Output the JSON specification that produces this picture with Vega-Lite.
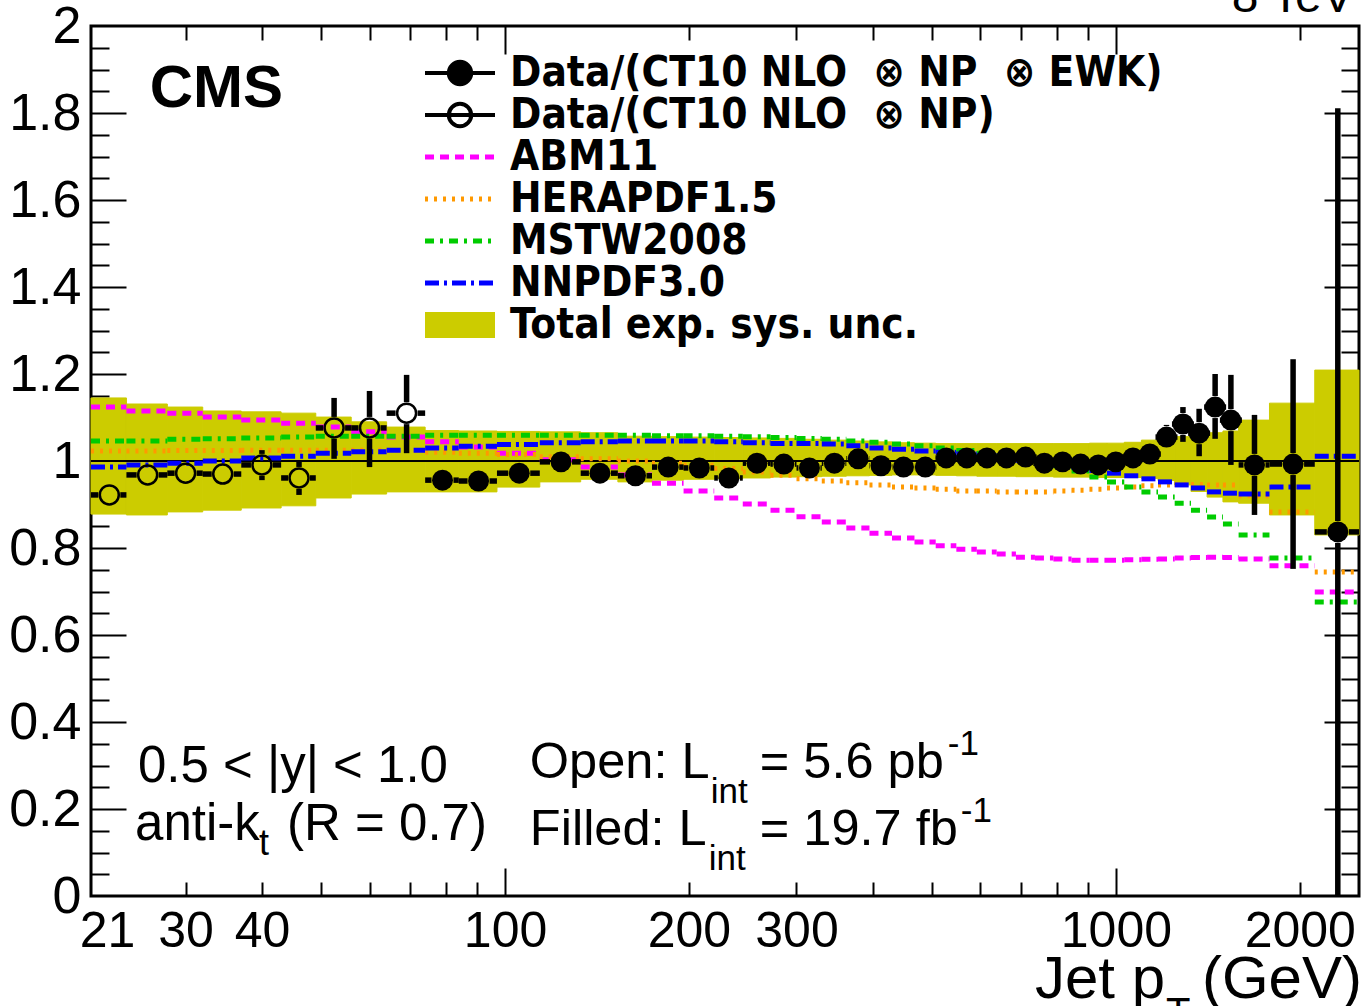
{
"$schema": "https://vega.github.io/schema/vega-lite/v6.json",
"width": 1268, "height": 870,
"autosize": {"type": "none"},
"padding": {"left": 91, "top": 26, "right": 2, "bottom": 110},
"background": "white",
"config": {"view": {"stroke": "black", "strokeWidth": 3}, "font": "Liberation Sans", "axis": {"grid": false, "domain": false, "title": null, "labelFont": "Liberation Sans", "tickColor": "black", "labelColor": "black"}},
"datasets": {"bins": [
{"lo":21,"hi":24,"c":22.5,"blo":0.878,"bhi":1.145,"a":1.124,"h":1.023,"m":1.046,"n":0.986,"v":0.922,"elo":0.907,"ehi":0.937,"k":"O"},
{"lo":24,"hi":28,"c":26,"blo":0.876,"bhi":1.131,"a":1.115,"h":1.023,"m":1.046,"n":0.991,"v":0.968,"elo":0.953,"ehi":0.983,"k":"O"},
{"lo":28,"hi":32,"c":30,"blo":0.883,"bhi":1.124,"a":1.110,"h":1.024,"m":1.050,"n":0.995,"v":0.972,"elo":0.957,"ehi":0.987,"k":"O"},
{"lo":32,"hi":37,"c":34.5,"blo":0.887,"bhi":1.115,"a":1.101,"h":1.024,"m":1.051,"n":1.000,"v":0.970,"elo":0.955,"ehi":0.985,"k":"O"},
{"lo":37,"hi":43,"c":40,"blo":0.892,"bhi":1.113,"a":1.094,"h":1.025,"m":1.053,"n":1.007,"v":0.991,"elo":0.956,"ehi":1.025,"k":"O"},
{"lo":43,"hi":49,"c":46,"blo":0.897,"bhi":1.110,"a":1.087,"h":1.025,"m":1.055,"n":1.011,"v":0.961,"elo":0.922,"ehi":0.998,"k":"O"},
{"lo":49,"hi":56,"c":52.5,"blo":0.915,"bhi":1.101,"a":1.078,"h":1.025,"m":1.057,"n":1.018,"v":1.076,"elo":1.005,"ehi":1.145,"k":"O"},
{"lo":56,"hi":64,"c":60,"blo":0.924,"bhi":1.090,"a":1.067,"h":1.025,"m":1.057,"n":1.021,"v":1.076,"elo":0.986,"ehi":1.161,"k":"O"},
{"lo":64,"hi":74,"c":69,"blo":0.929,"bhi":1.078,"a":1.055,"h":1.024,"m":1.057,"n":1.025,"v":1.110,"elo":1.018,"ehi":1.198,"k":"O"},
{"lo":74,"hi":84,"c":79,"blo":0.929,"bhi":1.070,"a":1.044,"h":1.020,"m":1.059,"n":1.030,"v":0.956,"elo":0.946,"ehi":0.966,"k":"F"},
{"lo":84,"hi":97,"c":90.5,"blo":0.929,"bhi":1.069,"a":1.032,"h":1.018,"m":1.059,"n":1.034,"v":0.954,"elo":0.944,"ehi":0.964,"k":"F"},
{"lo":97,"hi":114,"c":105.5,"blo":0.940,"bhi":1.068,"a":1.018,"h":1.015,"m":1.059,"n":1.038,"v":0.972,"elo":0.962,"ehi":0.982,"k":"F"},
{"lo":114,"hi":133,"c":123.5,"blo":0.952,"bhi":1.067,"a":1.003,"h":1.010,"m":1.059,"n":1.042,"v":0.998,"elo":0.988,"ehi":1.008,"k":"F"},
{"lo":133,"hi":153,"c":143,"blo":0.958,"bhi":1.065,"a":0.986,"h":1.005,"m":1.059,"n":1.044,"v":0.972,"elo":0.962,"ehi":0.982,"k":"F"},
{"lo":153,"hi":174,"c":163.5,"blo":0.952,"bhi":1.057,"a":0.968,"h":1.000,"m":1.059,"n":1.046,"v":0.966,"elo":0.956,"ehi":0.976,"k":"F"},
{"lo":174,"hi":196,"c":185,"blo":0.956,"bhi":1.056,"a":0.949,"h":0.995,"m":1.058,"n":1.046,"v":0.986,"elo":0.976,"ehi":0.996,"k":"F"},
{"lo":196,"hi":220,"c":208,"blo":0.958,"bhi":1.055,"a":0.931,"h":0.990,"m":1.058,"n":1.046,"v":0.984,"elo":0.974,"ehi":0.994,"k":"F"},
{"lo":220,"hi":245,"c":232.5,"blo":0.960,"bhi":1.054,"a":0.915,"h":0.983,"m":1.057,"n":1.044,"v":0.961,"elo":0.951,"ehi":0.971,"k":"F"},
{"lo":245,"hi":272,"c":258.5,"blo":0.961,"bhi":1.053,"a":0.901,"h":0.975,"m":1.056,"n":1.042,"v":0.995,"elo":0.985,"ehi":1.005,"k":"F"},
{"lo":272,"hi":300,"c":286,"blo":0.963,"bhi":1.052,"a":0.887,"h":0.967,"m":1.054,"n":1.040,"v":0.993,"elo":0.983,"ehi":1.003,"k":"F"},
{"lo":300,"hi":330,"c":315,"blo":0.964,"bhi":1.050,"a":0.872,"h":0.959,"m":1.052,"n":1.040,"v":0.984,"elo":0.974,"ehi":0.994,"k":"F"},
{"lo":330,"hi":362,"c":346,"blo":0.965,"bhi":1.048,"a":0.860,"h":0.954,"m":1.050,"n":1.039,"v":0.995,"elo":0.985,"ehi":1.005,"k":"F"},
{"lo":362,"hi":395,"c":378.5,"blo":0.966,"bhi":1.046,"a":0.846,"h":0.950,"m":1.046,"n":1.035,"v":1.005,"elo":0.995,"ehi":1.015,"k":"F"},
{"lo":395,"hi":430,"c":412.5,"blo":0.967,"bhi":1.044,"a":0.834,"h":0.945,"m":1.043,"n":1.030,"v":0.989,"elo":0.979,"ehi":0.999,"k":"F"},
{"lo":430,"hi":468,"c":449,"blo":0.968,"bhi":1.042,"a":0.823,"h":0.940,"m":1.039,"n":1.027,"v":0.986,"elo":0.976,"ehi":0.996,"k":"F"},
{"lo":468,"hi":507,"c":487.5,"blo":0.968,"bhi":1.041,"a":0.814,"h":0.938,"m":1.035,"n":1.023,"v":0.986,"elo":0.976,"ehi":0.996,"k":"F"},
{"lo":507,"hi":548,"c":527.5,"blo":0.967,"bhi":1.040,"a":0.805,"h":0.935,"m":1.030,"n":1.020,"v":1.007,"elo":0.997,"ehi":1.017,"k":"F"},
{"lo":548,"hi":592,"c":570,"blo":0.966,"bhi":1.040,"a":0.797,"h":0.931,"m":1.024,"n":1.016,"v":1.007,"elo":0.997,"ehi":1.017,"k":"F"},
{"lo":592,"hi":638,"c":615,"blo":0.965,"bhi":1.040,"a":0.791,"h":0.931,"m":1.018,"n":1.012,"v":1.007,"elo":0.997,"ehi":1.017,"k":"F"},
{"lo":638,"hi":686,"c":662,"blo":0.965,"bhi":1.040,"a":0.786,"h":0.929,"m":1.011,"n":1.007,"v":1.007,"elo":0.997,"ehi":1.017,"k":"F"},
{"lo":686,"hi":737,"c":711.5,"blo":0.964,"bhi":1.040,"a":0.779,"h":0.929,"m":1.004,"n":1.002,"v":1.009,"elo":0.997,"ehi":1.021,"k":"F"},
{"lo":737,"hi":790,"c":763.5,"blo":0.964,"bhi":1.040,"a":0.777,"h":0.929,"m":0.997,"n":0.997,"v":0.995,"elo":0.983,"ehi":1.007,"k":"F"},
{"lo":790,"hi":846,"c":818,"blo":0.963,"bhi":1.040,"a":0.775,"h":0.931,"m":0.989,"n":0.991,"v":0.998,"elo":0.986,"ehi":1.010,"k":"F"},
{"lo":846,"hi":905,"c":875.5,"blo":0.963,"bhi":1.040,"a":0.772,"h":0.933,"m":0.977,"n":0.985,"v":0.993,"elo":0.981,"ehi":1.005,"k":"F"},
{"lo":905,"hi":967,"c":936,"blo":0.962,"bhi":1.041,"a":0.772,"h":0.935,"m":0.963,"n":0.978,"v":0.991,"elo":0.979,"ehi":1.003,"k":"F"},
{"lo":967,"hi":1032,"c":999.5,"blo":0.962,"bhi":1.041,"a":0.772,"h":0.938,"m":0.952,"n":0.972,"v":0.998,"elo":0.986,"ehi":1.010,"k":"F"},
{"lo":1032,"hi":1101,"c":1066.5,"blo":0.962,"bhi":1.043,"a":0.773,"h":0.940,"m":0.940,"n":0.966,"v":1.007,"elo":0.992,"ehi":1.022,"k":"F"},
{"lo":1101,"hi":1172,"c":1136.5,"blo":0.960,"bhi":1.048,"a":0.774,"h":0.943,"m":0.929,"n":0.959,"v":1.016,"elo":1.001,"ehi":1.031,"k":"F"},
{"lo":1172,"hi":1248,"c":1210,"blo":0.955,"bhi":1.052,"a":0.775,"h":0.945,"m":0.917,"n":0.952,"v":1.055,"elo":1.030,"ehi":1.083,"k":"F"},
{"lo":1248,"hi":1327,"c":1287.5,"blo":0.945,"bhi":1.056,"a":0.777,"h":0.946,"m":0.903,"n":0.945,"v":1.085,"elo":1.044,"ehi":1.124,"k":"F"},
{"lo":1327,"hi":1410,"c":1368.5,"blo":0.930,"bhi":1.060,"a":0.778,"h":0.946,"m":0.887,"n":0.938,"v":1.064,"elo":1.011,"ehi":1.120,"k":"F"},
{"lo":1410,"hi":1497,"c":1453.5,"blo":0.917,"bhi":1.065,"a":0.779,"h":0.945,"m":0.871,"n":0.929,"v":1.124,"elo":1.051,"ehi":1.200,"k":"F"},
{"lo":1497,"hi":1588,"c":1542.5,"blo":0.906,"bhi":1.069,"a":0.778,"h":0.945,"m":0.855,"n":0.926,"v":1.094,"elo":0.991,"ehi":1.198,"k":"F"},
{"lo":1588,"hi":1784,"c":1686,"blo":0.903,"bhi":1.094,"a":0.775,"h":0.920,"m":0.830,"n":0.924,"v":0.991,"elo":0.876,"ehi":1.106,"k":"F"},
{"lo":1784,"hi":2116,"c":1950,"blo":0.876,"bhi":1.133,"a":0.759,"h":0.883,"m":0.777,"n":0.940,"v":0.993,"elo":0.752,"ehi":1.234,"k":"F"},
{"lo":2116,"hi":2500,"c":2308,"blo":0.830,"bhi":1.209,"a":0.699,"h":0.745,"m":0.676,"n":1.011,"v":0.837,"elo":-0.05,"ehi":1.811,"k":"F"}
]},
"data": {"name": "bins"},
"resolve": {"axis": {"x": "independent", "y": "independent"}},
"layer": [
{"mark": {"type": "rect", "color": "#CCCC00", "stroke": "#CCCC00", "strokeWidth": 1},
 "encoding": {
  "x": {"field": "lo", "type": "quantitative", "scale": {"type": "log", "domain": [21, 2500], "nice": false},
   "axis": {"orient": "bottom", "values": [21, 30, 40, 100, 200, 300, 1000, 2000], "format": "d", "ticks": false, "domain": false, "grid": false, "title": null, "labelFont": "Liberation Sans", "labelFontSize": 50, "labelColor": "black", "labelPadding": 10, "labelFlush": false, "labelOverlap": false, "labelBound": false, "labelOffset": {"condition": {"test": "datum.value < 22", "value": 16}, "value": 0}}},
  "x2": {"field": "hi"},
  "y": {"field": "blo", "type": "quantitative", "scale": {"domain": [0, 2], "nice": false, "zero": false},
   "axis": {"orient": "left", "values": [0, 0.2, 0.4, 0.6, 0.8, 1, 1.2, 1.4, 1.6, 1.8, 2], "format": "~g", "ticks": false, "domain": false, "grid": false, "title": null, "labelFont": "Liberation Sans", "labelFontSize": 52, "labelColor": "black", "labelPadding": 10, "labelFlush": false, "labelOverlap": false, "labelBound": false}},
  "y2": {"field": "bhi"}
 }},
{"data": {"values": [{}]},
 "mark": {"type": "rule", "color": "black", "strokeWidth": 2},
 "encoding": {"y": {"datum": 1, "type": "quantitative", "scale": {"domain": [0, 2], "nice": false, "zero": false}, "axis": null}}},
{"transform": [{"fold": ["a", "h", "m", "n"], "as": ["model", "r"]}],
 "mark": {"type": "rule", "strokeWidth": 5},
 "encoding": {
  "x": {"field": "lo", "type": "quantitative", "scale": {"type": "log", "domain": [21, 2500], "nice": false},
   "axis": {"orient": "bottom", "values": [100, 1000], "labels": false, "ticks": true, "tickSize": -28, "tickWidth": 2, "tickColor": "black", "domain": false, "grid": false, "title": null}},
  "x2": {"field": "hi"},
  "y": {"field": "r", "type": "quantitative", "scale": {"domain": [0, 2], "nice": false, "zero": false},
   "axis": {"orient": "left", "values": [0.2, 0.4, 0.6, 0.8, 1, 1.2, 1.4, 1.6, 1.8], "labels": false, "ticks": true, "tickSize": -35, "tickWidth": 2, "tickColor": "black", "domain": false, "grid": false, "title": null}},
  "color": {"field": "model", "type": "nominal",
   "scale": {"domain": ["F", "O", "a", "h", "m", "n", "B"], "range": ["black", "black", "#FF00FF", "#FF9900", "#00CC00", "#0000FF", "#CCCC00"]},
   "legend": {"orient": "none", "legendX": 348, "legendY": 26, "title": null, "padding": 0,
    "labelFont": "DejaVu Sans Condensed, Liberation Sans", "labelFontWeight": "bold", "labelFontSize": 42, "labelColor": "black", "labelLimit": 2000,
    "labelOffset": 29, "rowPadding": 0, "symbolSize": 4900, "symbolStrokeWidth": 5, "symbolType": "stroke",
    "labelExpr": "datum.label === 'F' ? 'Data/(CT10 NLO\u00a0 ⊗ NP\u00a0 ⊗ EWK)' : datum.label === 'O' ? 'Data/(CT10 NLO\u00a0 ⊗ NP)' : datum.label === 'a' ? 'ABM11' : datum.label === 'h' ? 'HERAPDF1.5' : datum.label === 'm' ? 'MSTW2008' : datum.label === 'n' ? 'NNPDF3.0' : 'Total exp. sys. unc.'",
    "encode": {"symbols": {"update": {
     "shape": {"signal": "datum.value === 'F' ? 'M-1,0H-0.32A0.32,0.32,0,1,1,0.32,0A0.32,0.32,0,1,1,-0.32,0M0.32,0H1' : datum.value === 'O' ? 'M-1,0H1M0.32,0A0.32,0.32,0,1,1,-0.32,0A0.32,0.32,0,1,1,0.32,0' : datum.value === 'B' ? 'M-1,-0.37H1V0.37H-1Z' : 'stroke'"},
     "fill": {"signal": "datum.value === 'F' ? 'black' : datum.value === 'B' ? '#CCCC00' : 'transparent'"},
     "stroke": {"signal": "datum.value === 'a' ? '#FF00FF' : datum.value === 'h' ? '#FF9900' : datum.value === 'm' ? '#00CC00' : datum.value === 'n' ? '#0000FF' : datum.value === 'B' ? '#CCCC00' : 'black'"},
     "strokeDash": {"signal": "datum.value === 'a' ? [9,6] : datum.value === 'h' ? [3,6] : datum.value === 'm' ? [9,6,3,6] : datum.value === 'n' ? [14,5,3,5] : []"},
     "strokeWidth": {"signal": "datum.value === 'B' ? 0 : (datum.value === 'F' || datum.value === 'O') ? 4 : 5"},
     "size": {"value": 4900},
     "opacity": {"value": 1}
    }}}}},
  "strokeDash": {"field": "model", "type": "nominal", "scale": {"domain": ["a", "h", "m", "n"], "range": [[9, 6], [3, 6], [9, 6, 3, 6], [14, 5, 3, 5]]}, "legend": null}
 }},
{"mark": {"type": "rule", "color": "black", "strokeWidth": 5.5, "x2Offset": -11},
 "encoding": {
  "x": {"field": "lo", "type": "quantitative", "scale": {"type": "log", "domain": [21, 2500], "nice": false},
   "axis": {"orient": "bottom", "values": [30, 40, 50, 60, 70, 80, 90, 200, 300, 400, 500, 600, 700, 800, 900, 2000], "labels": false, "ticks": true, "tickSize": -14, "tickWidth": 2, "tickColor": "black", "domain": false, "grid": false, "title": null}},
  "x2": {"field": "c"},
  "y": {"field": "v", "type": "quantitative", "scale": {"domain": [0, 2], "nice": false, "zero": false},
   "axis": {"orient": "left", "values": [0.05, 0.1, 0.15, 0.25, 0.3, 0.35, 0.45, 0.5, 0.55, 0.65, 0.7, 0.75, 0.85, 0.9, 0.95, 1.05, 1.1, 1.15, 1.25, 1.3, 1.35, 1.45, 1.5, 1.55, 1.65, 1.7, 1.75, 1.85, 1.9, 1.95], "labels": false, "ticks": true, "tickSize": -18, "tickWidth": 2, "tickColor": "black", "domain": false, "grid": false, "title": null}}
 }},
{"mark": {"type": "rule", "color": "black", "strokeWidth": 5.5, "xOffset": 11},
 "encoding": {
  "x": {"field": "c", "type": "quantitative", "scale": {"type": "log", "domain": [21, 2500], "nice": false},
   "axis": {"orient": "top", "values": [100, 1000], "labels": false, "ticks": true, "tickSize": -28, "tickWidth": 2, "tickColor": "black", "domain": false, "grid": false, "title": null}},
  "x2": {"field": "hi"},
  "y": {"field": "v", "type": "quantitative", "scale": {"domain": [0, 2], "nice": false, "zero": false},
   "axis": {"orient": "right", "values": [0.2, 0.4, 0.6, 0.8, 1, 1.2, 1.4, 1.6, 1.8], "labels": false, "ticks": true, "tickSize": -35, "tickWidth": 2, "tickColor": "black", "domain": false, "grid": false, "title": null}}
 }},
{"transform": [{"filter": "datum.ehi - datum.v > 0.026"}],
 "mark": {"type": "rule", "color": "black", "strokeWidth": 5.5, "yOffset": -11, "clip": true},
 "encoding": {
  "x": {"field": "c", "type": "quantitative", "scale": {"type": "log", "domain": [21, 2500], "nice": false},
   "axis": {"orient": "top", "values": [30, 40, 50, 60, 70, 80, 90, 200, 300, 400, 500, 600, 700, 800, 900, 2000], "labels": false, "ticks": true, "tickSize": -14, "tickWidth": 2, "tickColor": "black", "domain": false, "grid": false, "title": null}},
  "y": {"field": "v", "type": "quantitative", "scale": {"domain": [0, 2], "nice": false, "zero": false},
   "axis": {"orient": "right", "values": [0.05, 0.1, 0.15, 0.25, 0.3, 0.35, 0.45, 0.5, 0.55, 0.65, 0.7, 0.75, 0.85, 0.9, 0.95, 1.05, 1.1, 1.15, 1.25, 1.3, 1.35, 1.45, 1.5, 1.55, 1.65, 1.7, 1.75, 1.85, 1.9, 1.95], "labels": false, "ticks": true, "tickSize": -18, "tickWidth": 2, "tickColor": "black", "domain": false, "grid": false, "title": null}},
  "y2": {"field": "ehi"}
 }},
{"transform": [{"filter": "datum.v - datum.elo > 0.026"}],
 "mark": {"type": "rule", "color": "black", "strokeWidth": 5.5, "y2Offset": 11, "clip": true},
 "encoding": {
  "x": {"field": "c", "type": "quantitative", "scale": {"type": "log", "domain": [21, 2500], "nice": false}, "axis": null},
  "y": {"field": "elo", "type": "quantitative", "scale": {"domain": [0, 2], "nice": false, "zero": false}, "axis": null},
  "y2": {"field": "v"}
 }},
{"transform": [{"filter": "datum.k === 'F'"}],
 "mark": {"type": "point", "shape": "circle", "filled": true, "color": "black", "size": 440, "opacity": 1},
 "encoding": {
  "x": {"field": "c", "type": "quantitative", "scale": {"type": "log", "domain": [21, 2500], "nice": false}, "axis": null},
  "y": {"field": "v", "type": "quantitative", "scale": {"domain": [0, 2], "nice": false, "zero": false}, "axis": null}
 }},
{"transform": [{"filter": "datum.k === 'O'"}],
 "mark": {"type": "point", "shape": "circle", "filled": false, "stroke": "black", "strokeWidth": 2.5, "size": 360, "opacity": 1},
 "encoding": {
  "x": {"field": "c", "type": "quantitative", "scale": {"type": "log", "domain": [21, 2500], "nice": false}, "axis": null},
  "y": {"field": "v", "type": "quantitative", "scale": {"domain": [0, 2], "nice": false, "zero": false}, "axis": null}
 }},
{"data": {"values": [{}]}, "mark": {"type": "text", "text": "CMS", "font": "Liberation Sans", "fontWeight": "bold", "fontSize": 60, "align": "left", "baseline": "alphabetic", "color": "black"},
 "encoding": {"x": {"datum": 26.2, "type": "quantitative", "scale": {"type": "log", "domain": [21, 2500], "nice": false}, "axis": null}, "y": {"datum": 1.814, "type": "quantitative", "scale": {"domain": [0, 2], "nice": false, "zero": false}, "axis": null}}},
{"data": {"values": [{}]}, "mark": {"type": "text", "text": "0.5 < |y| < 1.0", "font": "Liberation Sans", "fontSize": 51, "align": "left", "baseline": "alphabetic", "color": "black"},
 "encoding": {"x": {"datum": 25.06, "type": "quantitative", "scale": {"type": "log", "domain": [21, 2500], "nice": false}, "axis": null}, "y": {"datum": 0.262, "type": "quantitative", "scale": {"domain": [0, 2], "nice": false, "zero": false}, "axis": null}}},
{"data": {"values": [{}]}, "mark": {"type": "text", "text": "anti-k", "font": "Liberation Sans", "fontSize": 51, "align": "left", "baseline": "alphabetic", "color": "black"},
 "encoding": {"x": {"datum": 24.8, "type": "quantitative", "scale": {"type": "log", "domain": [21, 2500], "nice": false}, "axis": null}, "y": {"datum": 0.129, "type": "quantitative", "scale": {"domain": [0, 2], "nice": false, "zero": false}, "axis": null}}},
{"data": {"values": [{}]}, "mark": {"type": "text", "text": "t", "font": "Liberation Sans", "fontSize": 36, "align": "left", "baseline": "alphabetic", "color": "black", "dx": 124, "dy": 15},
 "encoding": {"x": {"datum": 24.8, "type": "quantitative", "scale": {"type": "log", "domain": [21, 2500], "nice": false}, "axis": null}, "y": {"datum": 0.129, "type": "quantitative", "scale": {"domain": [0, 2], "nice": false, "zero": false}, "axis": null}}},
{"data": {"values": [{}]}, "mark": {"type": "text", "text": "(R = 0.7)", "font": "Liberation Sans", "fontSize": 51, "align": "left", "baseline": "alphabetic", "color": "black", "dx": 152},
 "encoding": {"x": {"datum": 24.8, "type": "quantitative", "scale": {"type": "log", "domain": [21, 2500], "nice": false}, "axis": null}, "y": {"datum": 0.129, "type": "quantitative", "scale": {"domain": [0, 2], "nice": false, "zero": false}, "axis": null}}},
{"data": {"values": [{}]}, "mark": {"type": "text", "text": "Open: L", "font": "Liberation Sans", "fontSize": 50.5, "align": "left", "baseline": "alphabetic", "color": "black"},
 "encoding": {"x": {"datum": 109.8, "type": "quantitative", "scale": {"type": "log", "domain": [21, 2500], "nice": false}, "axis": null}, "y": {"datum": 0.271, "type": "quantitative", "scale": {"domain": [0, 2], "nice": false, "zero": false}, "axis": null}}},
{"data": {"values": [{}]}, "mark": {"type": "text", "text": "int", "font": "Liberation Sans", "fontSize": 35, "align": "left", "baseline": "alphabetic", "color": "black", "dx": 181, "dy": 25},
 "encoding": {"x": {"datum": 109.8, "type": "quantitative", "scale": {"type": "log", "domain": [21, 2500], "nice": false}, "axis": null}, "y": {"datum": 0.271, "type": "quantitative", "scale": {"domain": [0, 2], "nice": false, "zero": false}, "axis": null}}},
{"data": {"values": [{}]}, "mark": {"type": "text", "text": "= 5.6 pb", "font": "Liberation Sans", "fontSize": 50.5, "align": "left", "baseline": "alphabetic", "color": "black", "dx": 230},
 "encoding": {"x": {"datum": 109.8, "type": "quantitative", "scale": {"type": "log", "domain": [21, 2500], "nice": false}, "axis": null}, "y": {"datum": 0.271, "type": "quantitative", "scale": {"domain": [0, 2], "nice": false, "zero": false}, "axis": null}}},
{"data": {"values": [{}]}, "mark": {"type": "text", "text": "-1", "font": "Liberation Sans", "fontSize": 35, "align": "left", "baseline": "alphabetic", "color": "black", "dx": 418, "dy": -23},
 "encoding": {"x": {"datum": 109.8, "type": "quantitative", "scale": {"type": "log", "domain": [21, 2500], "nice": false}, "axis": null}, "y": {"datum": 0.271, "type": "quantitative", "scale": {"domain": [0, 2], "nice": false, "zero": false}, "axis": null}}},
{"data": {"values": [{}]}, "mark": {"type": "text", "text": "Filled: L", "font": "Liberation Sans", "fontSize": 50.5, "align": "left", "baseline": "alphabetic", "color": "black"},
 "encoding": {"x": {"datum": 109.8, "type": "quantitative", "scale": {"type": "log", "domain": [21, 2500], "nice": false}, "axis": null}, "y": {"datum": 0.117, "type": "quantitative", "scale": {"domain": [0, 2], "nice": false, "zero": false}, "axis": null}}},
{"data": {"values": [{}]}, "mark": {"type": "text", "text": "int", "font": "Liberation Sans", "fontSize": 35, "align": "left", "baseline": "alphabetic", "color": "black", "dx": 179, "dy": 25},
 "encoding": {"x": {"datum": 109.8, "type": "quantitative", "scale": {"type": "log", "domain": [21, 2500], "nice": false}, "axis": null}, "y": {"datum": 0.117, "type": "quantitative", "scale": {"domain": [0, 2], "nice": false, "zero": false}, "axis": null}}},
{"data": {"values": [{}]}, "mark": {"type": "text", "text": "= 19.7 fb", "font": "Liberation Sans", "fontSize": 50.5, "align": "left", "baseline": "alphabetic", "color": "black", "dx": 230},
 "encoding": {"x": {"datum": 109.8, "type": "quantitative", "scale": {"type": "log", "domain": [21, 2500], "nice": false}, "axis": null}, "y": {"datum": 0.117, "type": "quantitative", "scale": {"domain": [0, 2], "nice": false, "zero": false}, "axis": null}}},
{"data": {"values": [{}]}, "mark": {"type": "text", "text": "-1", "font": "Liberation Sans", "fontSize": 35, "align": "left", "baseline": "alphabetic", "color": "black", "dx": 431, "dy": -23},
 "encoding": {"x": {"datum": 109.8, "type": "quantitative", "scale": {"type": "log", "domain": [21, 2500], "nice": false}, "axis": null}, "y": {"datum": 0.117, "type": "quantitative", "scale": {"domain": [0, 2], "nice": false, "zero": false}, "axis": null}}},
{"data": {"values": [{}]}, "mark": {"type": "text", "text": "8 TeV", "font": "Liberation Sans", "fontSize": 48, "align": "left", "baseline": "alphabetic", "color": "black", "dy": -14},
 "encoding": {"x": {"datum": 1548, "type": "quantitative", "scale": {"type": "log", "domain": [21, 2500], "nice": false}, "axis": null}, "y": {"datum": 2, "type": "quantitative", "scale": {"domain": [0, 2], "nice": false, "zero": false}, "axis": null}}},
{"data": {"values": [{}]}, "mark": {"type": "text", "text": "Jet p", "font": "Liberation Sans", "fontSize": 60, "align": "right", "baseline": "alphabetic", "color": "black", "dx": -194, "dy": 102},
 "encoding": {"x": {"datum": 2500, "type": "quantitative", "scale": {"type": "log", "domain": [21, 2500], "nice": false}, "axis": null}, "y": {"datum": 0, "type": "quantitative", "scale": {"domain": [0, 2], "nice": false, "zero": false}, "axis": null}}},
{"data": {"values": [{}]}, "mark": {"type": "text", "text": "T", "font": "Liberation Sans", "fontSize": 40, "align": "left", "baseline": "alphabetic", "color": "black", "dx": -193, "dy": 130},
 "encoding": {"x": {"datum": 2500, "type": "quantitative", "scale": {"type": "log", "domain": [21, 2500], "nice": false}, "axis": null}, "y": {"datum": 0, "type": "quantitative", "scale": {"domain": [0, 2], "nice": false, "zero": false}, "axis": null}}},
{"data": {"values": [{}]}, "mark": {"type": "text", "text": "(GeV)", "font": "Liberation Sans", "fontSize": 60, "align": "right", "baseline": "alphabetic", "color": "black", "dx": 3, "dy": 102},
 "encoding": {"x": {"datum": 2500, "type": "quantitative", "scale": {"type": "log", "domain": [21, 2500], "nice": false}, "axis": null}, "y": {"datum": 0, "type": "quantitative", "scale": {"domain": [0, 2], "nice": false, "zero": false}, "axis": null}}}
]
}
